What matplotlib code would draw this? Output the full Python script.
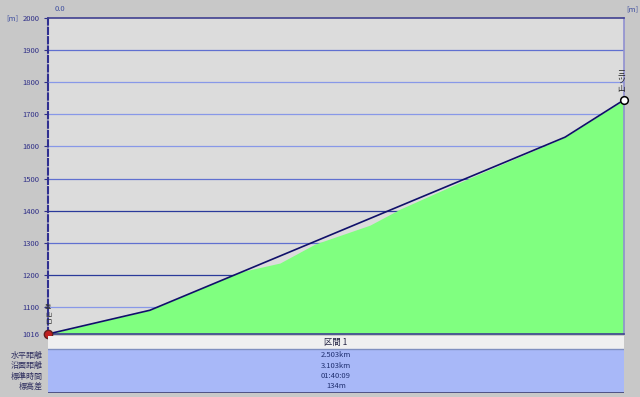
import matplotlib
matplotlib.use("Agg")
import matplotlib.pyplot as plt
from matplotlib.patches import Rectangle

plt.rcParams['font.family'] = ['Noto Sans CJK JP', 'DejaVu Sans']

# ルート（折れ線）と地形（塗りつぶし）の断面データ [km], [m]
dist_route = [0, 0.443, 2.247, 2.503]
elev_route = [1016, 1090, 1629, 1745]
dist_terrain = [0, 0.443, 0.834, 1.008, 1.160, 1.399, 1.530, 1.834, 2.247, 2.503]
elev_terrain = [1016, 1090, 1209, 1237, 1296, 1355, 1405, 1502, 1629, 1745]

y_ticks = [1016, 1100, 1200, 1300, 1400, 1500, 1600, 1700, 1800, 1900, 2000]
start_name = "登山口"
end_name = "三ツ山"

section_name = "区間 1"
row_labels = ["水平距離", "沿面距離", "標準時間", "標高差"]
row_values = ["2.503km", "3.103km", "01:40:09", "134m"]

W, H = 640, 397
fig = plt.figure(figsize=(W / 100, H / 100), dpi=100)
fig.patch.set_facecolor('#c8c8c8')

# 断面図
ax = fig.add_axes([48 / W, (H - 334) / H, 576 / W, (334 - 18) / H])
ax.set_facecolor('#dcdcdc')
ax.set_xlim(0, 2.503)
ax.set_ylim(1016, 2000)

# 目盛線は濃淡が交互に見える
grid_cols = ['#8898e8', '#2a3a9a', '#6070d0', '#2a3a9a', '#6070d0', '#8898e8', '#8898e8', '#8898e8', '#6070d0']
for v, c in zip(y_ticks[1:-1], grid_cols):
    ax.axhline(v, color=c, lw=0.9, zorder=1)

ax.fill_between(dist_terrain, elev_terrain, 1016, color='#80ff80', lw=0, zorder=2)
ax.plot(dist_route, elev_route, color='#10106a', lw=1.2, zorder=3)

ax.plot(dist_route[0], elev_route[0], 'o', ms=6, mfc='#c02020', mec='#602020',
        clip_on=False, zorder=5)
ax.plot(dist_route[-1], elev_route[-1], 'o', ms=5.5, mfc='white', mec='black',
        mew=1.1, clip_on=False, zorder=5)

ax.text(dist_route[0], elev_route[0] + 24, "\n".join(start_name), fontsize=4.5,
        ha='center', va='bottom', color='#303030', linespacing=0.9, zorder=6)
ax.text(dist_route[-1] - 0.012, elev_route[-1] + 22, "\n".join(end_name), fontsize=5.5,
        ha='center', va='bottom', color='#202020', linespacing=0.9, zorder=6)

ax.set_yticks(y_ticks)
ax.set_yticklabels([str(v) for v in y_ticks])
ax.tick_params(axis='y', labelsize=5.5, labelcolor='#303088', length=3, color='#303088', pad=3)
ax.set_xticks([])

for s in ['top', 'bottom']:
    ax.spines[s].set_color('#404090')
    ax.spines[s].set_linewidth(1.2)
ax.spines['right'].set_color('#9090d0')
ax.spines['right'].set_linewidth(1.2)
ax.spines['left'].set_color('#303090')
ax.spines['left'].set_linewidth(1.5)
ax.spines['left'].set_linestyle((0, (3, 1.5)))

fig.text(55 / W, 1 - 9 / H, "0.0", fontsize=5.5, color='#4050a0', va='center')
fig.text(626 / W, 1 - 9 / H, "[m]", fontsize=5.5, color='#4050a0', va='center')
fig.text(6 / W, 1 - 18 / H, "[m]", fontsize=5.5, color='#4050a0', va='center')

# 下部の集計表
tb = fig.add_axes([48 / W, (H - 393) / H, 576 / W, (393 - 336) / H])
tb.set_xlim(0, 1)
tb.set_ylim(57, 0)
tb.axis('off')
tb.add_patch(Rectangle((0, 0), 1, 13, facecolor='#f0f0f0', edgecolor='none'))
tb.add_patch(Rectangle((0, 13), 1, 44, facecolor='#a8b8f8', edgecolor='none'))
tb.axhline(13, color='#8090c0', lw=1)
tb.axhline(57, color='#404070', lw=1.2)
tb.text(0.5, 6.5, section_name, fontsize=6, ha='center', va='center', color='#202040')

row_y = [19, 29.5, 40, 50.5]
for lab, val, yy in zip(row_labels, row_values, row_y):
    tb.text(0.5, yy, val, fontsize=5.5, ha='center', va='center', color='#203070')
    fig.text(43 / W, (H - 336 - yy) / H, lab, fontsize=5.8, ha='right', va='center',
             color='#303060')

fig.savefig("out.png", dpi=100, facecolor=fig.get_facecolor())
